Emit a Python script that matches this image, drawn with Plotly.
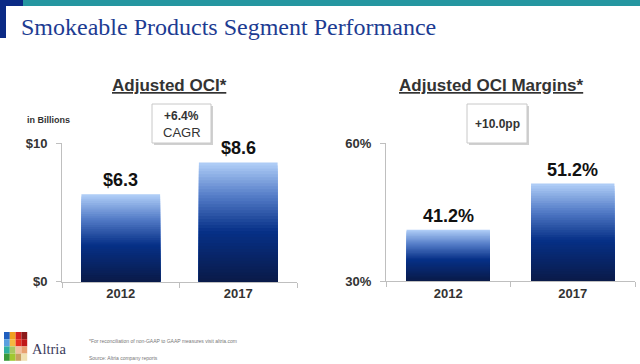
import plotly.graph_objects as go

# ---- data ----
years = ["2012", "2017"]
oci_values = [6.3, 8.6]
oci_labels = ["$6.3", "$8.6"]
margin_values = [41.2, 51.2]
margin_labels = ["41.2%", "51.2%"]
oci_ticks = [0, 10]
oci_ticktext = ["$0", "$10"]
margin_ticks = [30, 60]
margin_ticktext = ["30%", "60%"]

W, H = 640, 364
FONT = "Liberation Sans"
SERIF = "Liberation Serif"

def px(x):
    return x / W

def py(y):
    return 1 - y / H

stops = [(0.0, (10, 26, 72)), (0.42, (6, 48, 135)), (0.72, (85, 125, 200)), (1.0, (178, 208, 248))]

def grad(t):
    for (t0, c0), (t1, c1) in zip(stops[:-1], stops[1:]):
        if t0 <= t <= t1:
            f = (t - t0) / (t1 - t0)
            return "rgb(%d,%d,%d)" % tuple(round(a + (b - a) * f) for a, b in zip(c0, c1))
    return "rgb(%d,%d,%d)" % stops[-1][1]

fig = go.Figure()
N = 40

def add_grad_bars(vals, b0, xa, ya):
    for k in range(N):
        frac = (N - k) / N
        col = grad(frac - 0.5 / N)
        fig.add_trace(go.Bar(
            x=years, y=[(v - b0) * frac for v in vals], base=b0,
            marker=dict(color=col, line=dict(width=0)),
            xaxis=xa, yaxis=ya, hoverinfo="skip", showlegend=False))

add_grad_bars(oci_values, 0, "x", "y")
add_grad_bars(margin_values, 30, "x2", "y2")

axis_common = dict(showgrid=False, zeroline=False, showline=True, linecolor="#bfbfbf",
                   linewidth=1, automargin=False)
tickfont = dict(family=FONT, size=13, color="#333333", weight="bold")
xcat = dict(type="category", range=[-0.5, len(years) - 0.5], tickangle=0,
            ticks="outside", tickson="boundaries", ticklen=5, tickcolor="#bfbfbf",
            tickfont=tickfont, **axis_common)

fig.update_layout(
    template="none",
    width=W, height=H, margin=dict(l=0, r=0, t=0, b=0, autoexpand=False),
    paper_bgcolor="white", plot_bgcolor="white", showlegend=False,
    barmode="overlay", bargap=0.33,
    xaxis=dict(domain=[px(62), px(297)], anchor="y", **xcat),
    yaxis=dict(domain=[py(281.7), py(143)], anchor="x", range=oci_ticks,
               tickvals=oci_ticks, ticktext=oci_ticktext, ticks="outside", ticklen=5,
               tickcolor="#bfbfbf", ticklabelstandoff=6, tickfont=tickfont, **axis_common),
    xaxis2=dict(domain=[px(386), px(635)], anchor="y2", **xcat),
    yaxis2=dict(domain=[py(281.3), py(143)], anchor="x2", range=margin_ticks,
                tickvals=margin_ticks, ticktext=margin_ticktext, ticks="outside", ticklen=5,
                tickcolor="#bfbfbf", ticklabelstandoff=6, tickfont=tickfont, **axis_common),
)

# data labels (category index positions on the category axes)
for xa, ya, vals, labs in [("x", "y", oci_values, oci_labels), ("x2", "y2", margin_values, margin_labels)]:
    for i, (v, l) in enumerate(zip(vals, labs)):
        fig.add_annotation(x=i, y=v, xref=xa, yref=ya, text=l, showarrow=False,
                           yanchor="bottom", yshift=2,
                           font=dict(family=FONT, size=18, color="#111111", weight="bold"))

shapes = []
# header decoration
shapes.append(dict(type="rect", xref="paper", yref="paper", x0=px(0), x1=px(640), y0=py(6), y1=py(0),
                   fillcolor="#2596a0", line=dict(width=0)))
shapes.append(dict(type="rect", xref="paper", yref="paper", x0=px(0), x1=px(23), y0=py(6), y1=py(0),
                   fillcolor="#0b2a85", line=dict(width=0)))
shapes.append(dict(type="rect", xref="paper", yref="paper", x0=px(0), x1=px(6), y0=py(38), y1=py(0),
                   fillcolor="#0b2a85", line=dict(width=0)))

# boxes with shadow
for (x0, x1, y0, y1) in [(152, 211, 104, 143), (467, 527, 104, 143)]:
    shapes.append(dict(type="rect", xref="paper", yref="paper", x0=px(x0 + 2), x1=px(x1 + 2),
                       y0=py(y1 + 2), y1=py(y0 + 2), fillcolor="#d0d0d0", line=dict(width=0)))
    shapes.append(dict(type="rect", xref="paper", yref="paper", x0=px(x0), x1=px(x1),
                       y0=py(y1), y1=py(y0), fillcolor="white", line=dict(color="#c8c8c8", width=1)))

# logo grid
logo = [
    ["#1f5fbf", "#f0a020", "#d42020", "#8b1a1a"],
    ["#5aa0e0", "#f5b840", "#e83020", "#c01818"],
    ["#30b0a0", "#a8c860", "#f0c0a0", "#e8a070"],
    ["#3a9a3a", "#a0c830", "#c8a060", "#f0e0b0"],
]
cw, ch = 5.8, 7.2
for r, row in enumerate(logo):
    for c, col in enumerate(row):
        shapes.append(dict(type="rect", xref="paper", yref="paper",
                           x0=px(4 + c * cw), x1=px(4 + (c + 1) * cw),
                           y0=py(332 + (r + 1) * ch), y1=py(332 + r * ch),
                           fillcolor=col, line=dict(width=0)))
fig.update_layout(shapes=shapes)

def ann(x, y, text, size, color="#333333", family=FONT, weight="normal", xanchor="center", yanchor="middle"):
    fig.add_annotation(x=px(x), y=py(y), xref="paper", yref="paper", text=text, showarrow=False,
                       xanchor=xanchor, yanchor=yanchor,
                       font=dict(family=family, size=size, color=color, weight=weight))

ann(19, 27, "Smokeable Products Segment Performance", 24, color="#1d3c92", family=SERIF, xanchor="left")
ann(169, 85, "<u>Adjusted OCI*</u>", 17, weight="bold")
ann(491, 85, "<u>Adjusted OCI Margins*</u>", 17, weight="bold")
ann(25, 120, "in Billions", 9, weight="bold", xanchor="left")
ann(181.5, 116, "+6.4%", 12, weight="bold")
ann(181.5, 132, "CAGR", 13)
ann(497, 123.5, "+10.0pp", 12, weight="bold")
ann(30, 349, "Altria", 14.5, color="#3a3a5a", family=SERIF, xanchor="left")
ann(87, 341, "*For reconciliation of non-GAAP to GAAP measures visit altria.com", 5, color="#777777", xanchor="left")
ann(87, 358, "Source: Altria company reports", 5, color="#777777", xanchor="left")

fig.write_html("out.html", config={"displayModeBar": False, "staticPlot": True},
               post_script="document.body.style.margin='0';document.body.style.overflow='hidden';")
